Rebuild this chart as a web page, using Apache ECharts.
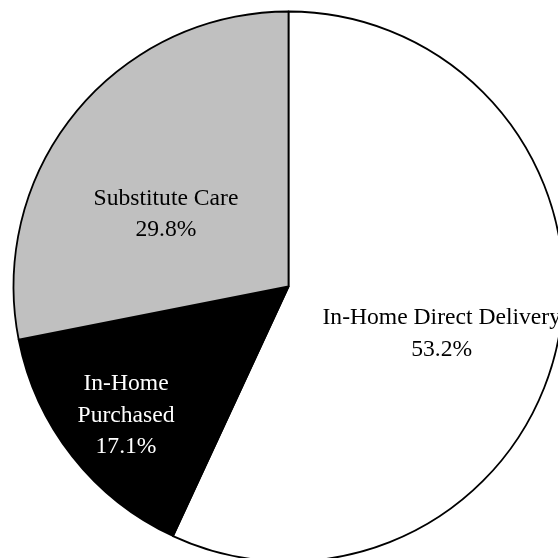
<!DOCTYPE html>
<html>
<head>
<meta charset="utf-8">
<script src="https://cdn.jsdelivr.net/npm/echarts@6/dist/echarts.min.js"></script>
<style>
html,body{margin:0;padding:0;background:#fff;}
#chart{width:558px;height:558px;}
</style>
</head>
<body>
<div id="chart"></div>
<script>
// Slice sizes as drawn in the reference
const categories = ['In-Home Direct Delivery', 'In-Home\nPurchased', 'Substitute Care'];
const sliceValues = [56.9, 15.0, 28.1];
// Percentages printed in the labels
const labelPercents = ['53.2%', '17.1%', '29.8%'];
const sliceColors = ['#ffffff', '#000000', '#c0c0c0'];
const labelColors = ['#000000', '#ffffff', '#000000'];
const labelOffsets = [[16, 17], [-52, 42], [-14, 17]];

const chart = echarts.init(document.getElementById('chart'), null, {renderer: 'canvas'});
const data = categories.map((c, i) => ({
  name: c,
  value: sliceValues[i],
  itemStyle: {color: sliceColors[i]},
  label: {color: labelColors[i], offset: labelOffsets[i]}
}));
chart.setOption({
  animation: false,
  backgroundColor: '#ffffff',
  series: [{
    type: 'pie',
    center: [288.5, 286.5],
    radius: [0, 275],
    startAngle: 90,
    clockwise: true,
    avoidLabelOverlap: false,
    itemStyle: {borderColor: '#000000', borderWidth: 1.8},
    label: {
      show: true,
      position: 'inside',
      fontFamily: '"Liberation Serif", "Times New Roman", serif',
      fontSize: 23.6,
      lineHeight: 31.5,
      align: 'center',
      formatter: p => p.name + '\n' + labelPercents[p.dataIndex]
    },
    labelLine: {show: false},
    emphasis: {disabled: true},
    data: data
  }]
});
</script>
</body>
</html>
